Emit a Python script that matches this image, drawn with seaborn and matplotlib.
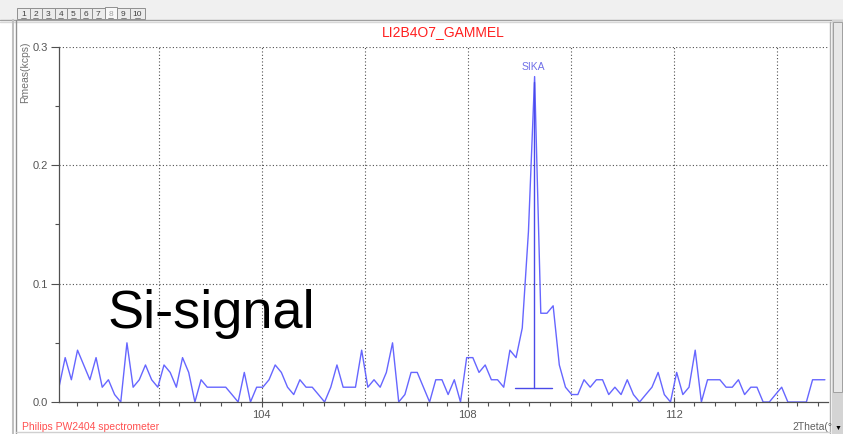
import matplotlib
matplotlib.use('Agg')
import matplotlib.pyplot as plt
from matplotlib.patches import Rectangle
from matplotlib.ticker import MultipleLocator
import numpy as np
import seaborn as sns

# scan: 2Theta from 100.06 in steps of 0.12 deg
scan_start = 100.06
scan_step = 0.12
rmeas = [0.0125, 0.0375, 0.0188, 0.0438, 0.0313, 0.0188, 0.0375, 0.0125, 0.0188, 0.0063,
         0.0, 0.05, 0.0125, 0.0188, 0.0313, 0.0188, 0.0125, 0.0313, 0.025, 0.0125,
         0.0375, 0.025, 0.0, 0.0188, 0.0125, 0.0125, 0.0125, 0.0125, 0.0063, 0.0,
         0.025, 0.0, 0.0125, 0.0125, 0.0188, 0.0313, 0.025, 0.0125, 0.0063, 0.0188,
         0.0125, 0.0125, 0.0063, 0.0, 0.0125, 0.0313, 0.0125, 0.0125, 0.0125, 0.0438,
         0.0125, 0.0188, 0.0125, 0.025, 0.05, 0.0, 0.0063, 0.025, 0.025, 0.0125,
         0.0, 0.0188, 0.0188, 0.0063, 0.0188, 0.0, 0.0375, 0.0375, 0.025, 0.0313,
         0.0188, 0.0188, 0.0125, 0.0438, 0.0375, 0.0625, 0.1438, 0.275, 0.075, 0.075,
         0.0813, 0.0313, 0.0125, 0.0063, 0.0063, 0.0188, 0.0125, 0.0188, 0.0188, 0.0063,
         0.0125, 0.0063, 0.0188, 0.0063, 0.0, 0.0063, 0.0125, 0.025, 0.0063, 0.0,
         0.025, 0.0063, 0.0125, 0.0438, 0.0, 0.0188, 0.0188, 0.0188, 0.0125, 0.0125,
         0.0188, 0.0063, 0.0125, 0.0125, 0.0, 0.0, 0.0063, 0.0125, 0.0, 0.0,
         0.0, 0.0, 0.0188, 0.0188, 0.0188]
two_theta = np.round(scan_start + scan_step * np.arange(len(rmeas)), 2)

# peak marker (SIKA line)
peak_pos = 109.28
peak_top = 0.27
peak_base = 0.0118
peak_halfwidth = 0.36
peak_label = 'SIKA'

tabs = ['1', '2', '3', '4', '5', '6', '7', '8', '9', '10']

sns.set_style('white')
plt.rcParams['font.family'] = ['Liberation Sans', 'DejaVu Sans']

W, H = 843, 434
fig = plt.figure(figsize=(W / 100, H / 100), dpi=100)

# window chrome drawn in pixel coordinates
bg = fig.add_axes([0, 0, 1, 1], zorder=-1)
bg.set_xlim(0, W)
bg.set_ylim(H, 0)
bg.axis('off')
bg.add_patch(Rectangle((0, 0), W, 20, color='#f0f0f0', lw=0))
bg.plot([0, W], [20, 20], color='#a0a0a0', lw=1)
bg.plot([0, W], [22, 22], color='#d8d8d8', lw=1)
bg.plot([13, 13], [20, H], color='#c0c0c0', lw=1.5)
bg.plot([16, 16], [20, H], color='#909090', lw=1)
bg.plot([830, 830], [22, H], color='#b0b0b0', lw=1)
bg.plot([16, 830], [432, 432], color='#d0d0d0', lw=1)
tx = 17
for i, t in enumerate(tabs):
    w = 12.5 if len(t) == 1 else 15
    sel = t == '8'
    bg.add_patch(Rectangle((tx, 7 if sel else 8), w, 12 if sel else 11,
                           facecolor='#f8f8f8' if sel else '#ececec',
                           edgecolor='#909090', lw=0.7))
    bg.text(tx + w / 2, 14, t, ha='center', va='center', fontsize=6,
            color='#a0a0a0' if sel else '#404040')
    bg.plot([tx + w / 2 - 2.5, tx + w / 2 + 2.5], [18, 18], color='#606060', lw=0.5)
    tx += w

ax = fig.add_axes([59 / W, 1 - 402 / H, (828 - 59) / W, (402 - 47) / H])
ax.set_facecolor('white')
sns.lineplot(x=two_theta, y=rmeas, ax=ax, color='#6666ff', lw=1.0)

ax.plot([peak_pos, peak_pos], [peak_base, peak_top], color='#4a4ae8', lw=1)
ax.plot([peak_pos - peak_halfwidth, peak_pos + peak_halfwidth], [peak_base, peak_base],
        color='#4a4ae8', lw=1)
ax.text(peak_pos, 0.2835, peak_label, ha='center', va='center', fontsize=7.5, color='#7070e8')

ax.set_xlim(100.06, 115.0)
ax.set_ylim(0, 0.3)
ax.xaxis.set_major_locator(MultipleLocator(4))
ax.xaxis.set_minor_locator(MultipleLocator(0.4))
ax.yaxis.set_major_locator(MultipleLocator(0.1))
ax.yaxis.set_minor_locator(MultipleLocator(0.05))
ax.set_yticks([0.0, 0.1, 0.2, 0.3])
ax.set_yticklabels(['0.0', '0.1', '0.2', '0.3'])
ax.tick_params(axis='both', which='major', length=6, width=0.8, color='#505050',
               labelsize=8, labelcolor='#555555', pad=2)
ax.tick_params(axis='x', which='major', direction='inout', length=7)
ax.tick_params(axis='both', which='minor', length=3, width=0.8, color='#505050')
ax.tick_params(bottom=True, left=True, which='both')

for gx in [102, 104, 106, 108, 110, 112, 114]:
    ax.axvline(gx, color='#505050', lw=0.8, ls=(0, (1, 2)), zorder=0)
for gy in [0.1, 0.2, 0.3]:
    ax.axhline(gy, color='#505050', lw=0.8, ls=(0, (1, 2)), zorder=0)

for s in ['top', 'right']:
    ax.spines[s].set_visible(False)
for s in ['left', 'bottom']:
    ax.spines[s].set_color('#505050')
    ax.spines[s].set_linewidth(0.9)

ax.set_xlabel('')
ax.set_ylabel('')
ax.set_title('LI2B4O7_GAMMEL', color='#ff2020', fontsize=10, pad=8)

fig.text(25 / W, 1 - 72 / H, 'Rmeas(kcps)', rotation=90, ha='center', va='center',
         fontsize=7.5, color='#707070')
fig.text(108 / W, 1 - 328 / H, 'Si-signal', ha='left', va='baseline', fontsize=39,
         color='black')
fig.text(22 / W, 1 - 427 / H, 'Philips PW2404 spectrometer', ha='left', va='center',
         fontsize=7.5, color='#ff5050')
fig.text(792 / W, 1 - 427 / H, '2Theta(\u00b0)', ha='left', va='center',
         fontsize=7.5, color='#606060')

# scrollbar on the right edge
fg = fig.add_axes([0, 0, 1, 1], zorder=10)
fg.set_xlim(0, W)
fg.set_ylim(H, 0)
fg.axis('off')
fg.add_patch(Rectangle((832, 20), 11, H - 20, facecolor='#d4d4d4', edgecolor='none'))
fg.add_patch(Rectangle((833, 22), 9, 370, facecolor='#e8e8e8', edgecolor='#a0a0a0', lw=0.7))
fg.text(838, 428, '\u25bc', ha='center', va='center', fontsize=5, color='black')

fig.savefig('out.png', dpi=100)
